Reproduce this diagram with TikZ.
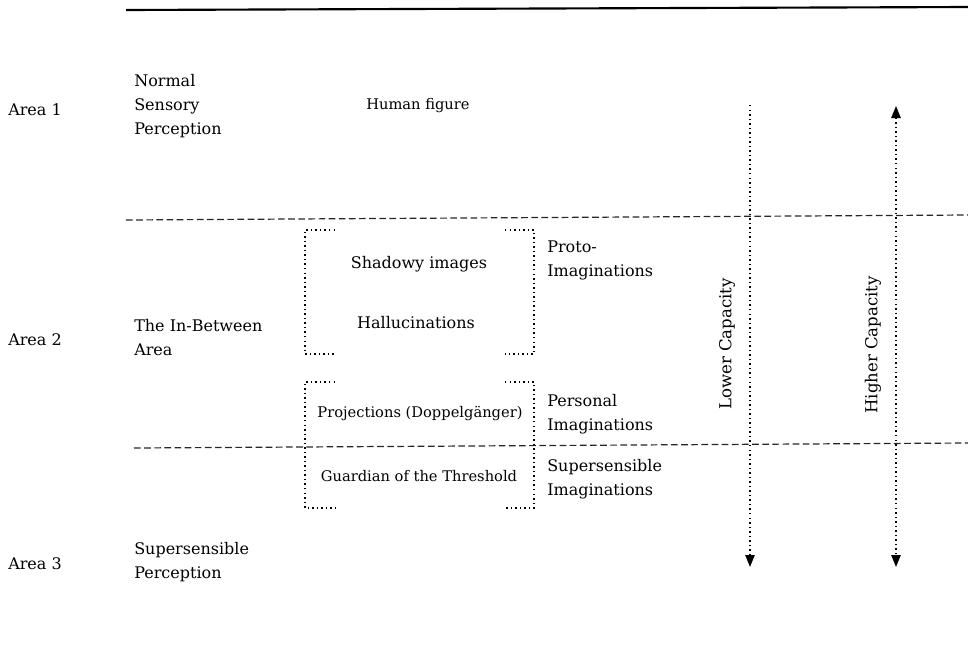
\documentclass[tikz,border=0pt]{standalone}
\usepackage{fontspec}
\setmainfont{DejaVu Serif}
\usetikzlibrary{arrows.meta}
\begin{document}
\begin{tikzpicture}[x=0.75pt,y=-0.75pt,
  lbl/.style={anchor=west, align=left, inner sep=0pt, font=\fontsize{12}{18}\selectfont},
  mid/.style={inner sep=0pt, font=\fontsize{12}{18}\selectfont},
  axislbl/.style={inner sep=0pt, rotate=90, font=\fontsize{12.4}{18}\selectfont},
  small/.style={inner sep=0pt, font=\fontsize{11}{14}\selectfont},
  boundary/.style={dash pattern=on 5pt off 2.6pt, line width=0.9pt, black!85},
  dotline/.style={dash pattern=on 1.1pt off 2.3pt, line width=1.1pt},
  tip/.style={-{Triangle[length=9pt,width=7pt]}},
  bothtips/.style={{Triangle[length=9pt,width=7pt]}-{Triangle[length=9pt,width=7pt]}}
]
\useasboundingbox (0,0) rectangle (968,661);

% top rule and the two area boundaries
\draw[line width=1.6pt] (126,10) -- (968,7);
\draw[boundary] (126,220) -- (968,215);
\draw[boundary] (134,448) -- (968,443);

% area labels
\node[lbl] (a1) at (8,110) {Area 1};
\node[lbl] (a2) at (8,340) {Area 2};
\node[lbl] (a3) at (8,564) {Area 3};

% perception levels
\node[lbl] (nsp) at (134,106) {Normal\\Sensory\\Perception};
\node[lbl] (iba) at (134,338) {The In-Between\\Area};
\node[lbl] (ssp) at (134,562) {Supersensible\\Perception};

% imagination kinds
\node[lbl] (proto) at (547,260) {Proto-\\Imaginations};
\node[lbl] (pers) at (547,414) {Personal\\Imaginations};
\node[lbl] (supi) at (547,479) {Supersensible\\Imaginations};

% contents
\node[small] (hf) at (418,106) {Human figure};
\node[mid] (shad) at (419,264) {Shadowy images};
\node[mid] (hall) at (416,323) {Hallucinations};
\node[small] (proj) at (420,414) {Projections (Doppelgänger)};
\node[small] (guard) at (419,476) {Guardian of the Threshold};

% bracket-like dotted frames
\draw[dotline] (335,230) -- (305,230) -- (305,354) -- (335,354);
\draw[dotline] (505,230) -- (534,230) -- (534,354) -- (505,354);
\draw[dotline] (335,382) -- (305,382) -- (305,508) -- (335,508);
\draw[dotline] (505,382) -- (534,382) -- (534,508) -- (505,508);

% capacity axes
\coordinate (lowtop) at (750,105);
\coordinate (lowbot) at (750,567);
\coordinate (hightop) at (896,106);
\coordinate (highbot) at (896,567);
\draw[dotline, tip] (lowtop) -- (lowbot);
\draw[dotline, bothtips] (hightop) -- (highbot);
\node[axislbl] (low) at (727,344) {Lower Capacity};
\node[axislbl] (high) at (873,345) {Higher Capacity};
\end{tikzpicture}
\end{document}
